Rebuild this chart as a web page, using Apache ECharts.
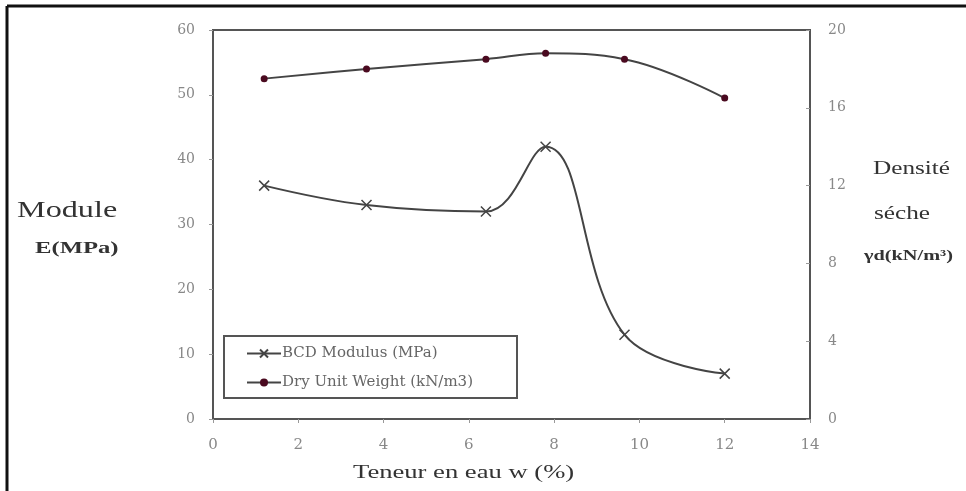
<!DOCTYPE html>
<html>
<head>
<meta charset="utf-8">
<script src="https://cdn.jsdelivr.net/npm/echarts@6/dist/echarts.min.js"></script>
<style>
  html, body { margin: 0; padding: 0; background: #fff; }
  #chart { width: 966px; height: 491px; }
</style>
</head>
<body>
<div id="chart"></div>
<script>
// teneur en eau (%)
const waterContent = [1.2, 3.6, 6.4, 7.8, 9.65, 12]
// module BCD (MPa)
const bcdModulus = [36, 33, 32, 42, 13, 7]
// densité sèche (kN/m3)
const dryUnitWeight = [17.5, 18.0, 18.5, 18.8, 18.5, 16.5]

const xTicks = [0, 2, 4, 6, 8, 10, 12, 14]
const leftTicks = [0, 10, 20, 30, 40, 50, 60]
const rightTicks = [0, 4, 8, 12, 16, 20]

const serif = '"DejaVu Serif", "Liberation Serif", serif'
const times = '"Liberation Serif", "DejaVu Serif", serif'
const lineColor = '#444'

const chart = echarts.init(document.getElementById('chart'))

const option = {
  backgroundColor: '#fff',
  animation: false,
  grid: {
    left: 213, top: 30, right: 156, bottom: 72,
    show: true, borderColor: '#555', borderWidth: 2
  },
  legend: {
    orient: 'vertical',
    left: 224, top: 336,
    padding: [10, 44, 8, 22],
    itemGap: 14,
    itemWidth: 34, itemHeight: 10,
    borderColor: '#555', borderWidth: 2,
    textStyle: { fontFamily: serif, fontSize: 15, color: '#666', padding: [0, 0, 0, -4] },
    data: ['BCD Modulus (MPa)', 'Dry Unit Weight (kN/m3)']
  },
  xAxis: {
    type: 'value',
    min: xTicks[0], max: xTicks[xTicks.length - 1], interval: 2,
    axisLine: { lineStyle: { color: '#555', width: 2 } },
    axisTick: { show: true, length: 4, lineStyle: { color: '#999' } },
    axisLabel: { margin: 19, fontFamily: serif, fontSize: 15, color: '#888' },
    splitLine: { show: false }
  },
  yAxis: [
    {
      type: 'value', position: 'left',
      min: leftTicks[0], max: leftTicks[leftTicks.length - 1], interval: 10,
      axisLine: { show: true, lineStyle: { color: '#555', width: 2 } },
      axisTick: { show: true, length: 4, lineStyle: { color: '#999' } },
      axisLabel: { margin: 18, fontFamily: serif, fontSize: 14, color: '#888' },
      splitLine: { show: false }
    },
    {
      type: 'value', position: 'right',
      min: rightTicks[0], max: rightTicks[rightTicks.length - 1], interval: 4,
      axisLine: { show: true, lineStyle: { color: '#555', width: 2 } },
      axisTick: { show: true, inside: true, length: 4, lineStyle: { color: '#999' } },
      axisLabel: { margin: 18, fontFamily: serif, fontSize: 14, color: '#888' },
      splitLine: { show: false }
    }
  ],
  series: [
    {
      name: 'BCD Modulus (MPa)',
      type: 'line',
      yAxisIndex: 0,
      smooth: 0.4,
      data: waterContent.map((w, i) => [w, bcdModulus[i]]),
      symbol: 'path://M0,0L10,10M10,0L0,10',
      symbolSize: 10,
      itemStyle: { color: lineColor, borderColor: lineColor, borderWidth: 1.5 },
      lineStyle: { color: lineColor, width: 2 }
    },
    {
      name: 'Dry Unit Weight (kN/m3)',
      type: 'line',
      yAxisIndex: 1,
      smooth: 0.4,
      data: waterContent.map((w, i) => [w, dryUnitWeight[i]]),
      symbol: 'circle',
      symbolSize: 7,
      itemStyle: { color: '#4a0a20', borderColor: '#4a0a20', borderWidth: 0 },
      lineStyle: { color: lineColor, width: 2 }
    }
  ],
  graphic: [
    // cadre extérieur (haut + gauche)
    { type: 'line', shape: { x1: 7, y1: 6, x2: 966, y2: 6 }, style: { stroke: '#111', lineWidth: 3 } },
    { type: 'line', shape: { x1: 7, y1: 6, x2: 7, y2: 491 }, style: { stroke: '#111', lineWidth: 3 } },
    // titres d'axes (image d'origine étirée en largeur)
    { type: 'text', x: 17, y: 199, scaleX: 1.4, style: { text: 'Module', font: '23px ' + times, fill: '#333' } },
    { type: 'text', x: 35, y: 240, scaleX: 1.45, style: { text: 'E(MPa)', font: 'bold 17px ' + times, fill: '#333' } },
    { type: 'text', x: 873, y: 160, scaleX: 1.4, style: { text: 'Densité', font: '18px ' + times, fill: '#333' } },
    { type: 'text', x: 874, y: 205, scaleX: 1.4, style: { text: 'séche', font: '18px ' + times, fill: '#333' } },
    { type: 'text', x: 864, y: 249, scaleX: 1.45, style: { text: 'γd(kN/m³)', font: 'bold 14px ' + times, fill: '#333' } },
    { type: 'text', x: 353, y: 464, scaleX: 1.4, style: { text: 'Teneur en eau w (%)', font: '19px ' + times, fill: '#333' } }
  ]
}

chart.setOption(option)
window.addEventListener('resize', () => chart.resize())
</script>
</body>
</html>
